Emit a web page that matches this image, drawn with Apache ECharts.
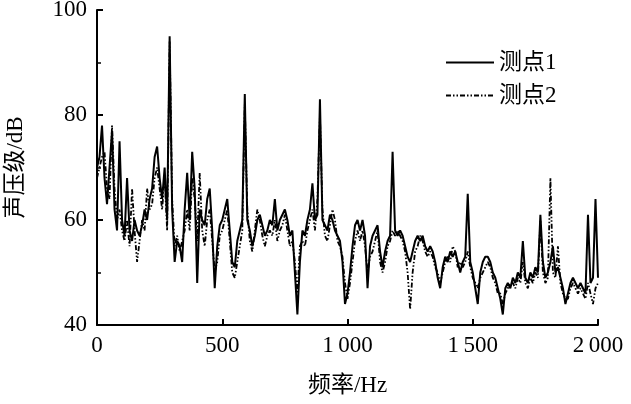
<!DOCTYPE html>
<html>
<head>
<meta charset="utf-8">
<script src="https://cdn.jsdelivr.net/npm/echarts@6/dist/echarts.min.js"></script>
<style>
html,body{margin:0;padding:0;background:#fff;}
#c{width:631px;height:404px;}
</style>
</head>
<body>
<div id="c"></div>
<script>
// frequency sampling grid (Hz), step 10
const freqStep = 10;
const freqCount = 201;
const freqs = Array.from({length: freqCount}, (_, i) => i * freqStep);

// 测点1 (solid) sound pressure level, dB
const point1 = [
70,72,78,68,63,70,77,62,58,75,60,57,68,58,56,60,58,57,59,62,
60,64,66,72,74,68,64,70,60,95,62,52,56,55,52,62,69,60,73,66,
48,62,60,59,64,66,58,47,55,59,60,62,64,58,52,51,56,58,60,84,
60,58,55,57,60,61,59,57,58,60,59,64,58,60,61,62,60,57,58,50,
42,52,58,57,60,62,67,60,61,83,60,59,58,61,60,58,57,56,52,44,
46,50,55,59,60,58,60,57,47,55,57,58,59,54,51,54,56,57,73,58,
57,58,57,55,53,52,54,56,57,56,57,55,54,55,54,52,49,47,51,53,
52,54,53,54,52,50,52,53,65,52,50,47,44,50,52,53,53,52,50,49,
47,45,42,47,48,47,49,48,50,49,56,49,48,50,49,51,50,61,52,49,
50,52,55,50,51,49,47,44,46,48,49,48,47,48,47,46,61,48,49,64,
49
];

// 测点2 (dash-dot) sound pressure level, dB
const point2 = [
68,70,72,73,66,64,78,66,60,62,58,56,60,55,66,58,52,56,60,58,
66,62,63,68,70,66,62,68,58,94,64,55,57,54,56,58,62,58,68,64,
56,69,58,55,60,62,56,50,52,57,58,60,62,56,50,49,52,55,58,82,
62,56,54,58,62,60,57,55,57,58,57,60,56,58,59,61,58,55,56,52,
46,55,56,55,58,60,62,58,64,80,62,57,56,59,62,60,56,55,53,48,
45,48,52,56,58,56,58,55,50,53,54,56,58,52,50,52,55,56,58,57,
58,57,56,54,50,43,50,54,55,57,56,54,53,54,53,51,50,48,50,52,
53,52,55,54,51,52,51,52,54,51,49,48,47,49,50,51,52,51,49,48,
46,46,44,46,47,48,48,47,49,48,52,48,47,49,48,50,49,60,50,48,
49,68,50,49,55,48,46,45,45,47,48,47,46,47,46,45,48,46,44,47,
48
];

const seriesNames = ['测点1', '测点2'];
const xTickLabels = {0: '0', 500: '500', 1000: '1\u2009000', 1500: '1\u2009500', 2000: '2\u2009000'};
const xAxisTitle = '频率/Hz';
const yAxisTitle = '声压级/dB';

const toPairs = arr => arr.map((v, i) => [freqs[i], v]);

const fontFam = "'Liberation Serif','Times New Roman','Noto Sans CJK SC',serif";
const chart = echarts.init(document.getElementById('c'));
chart.setOption({
  animation: false,
  backgroundColor: '#fff',
  grid: {left: 97, right: 33, top: 10, bottom: 79, containLabel: false, outerBoundsMode: 'none'},
  legend: {
    orient: 'vertical',
    left: 440,
    top: 46,
    itemWidth: 48,
    itemHeight: 14,
    itemGap: 10,
    itemStyle: {opacity: 0},
    textStyle: {fontFamily: fontFam, fontSize: 23, color: '#000'},
    data: seriesNames
  },
  xAxis: {
    type: 'value',
    min: 0, max: 2000, interval: 500,
    name: xAxisTitle, nameLocation: 'middle', nameGap: 49,
    nameTextStyle: {fontFamily: fontFam, fontSize: 23, color: '#000'},
    axisLine: {lineStyle: {color: '#000', width: 2}},
    axisTick: {inside: true, length: 6, lineStyle: {color: '#000', width: 2}},
    axisLabel: {fontFamily: fontFam, fontSize: 23, color: '#000', margin: 9,
      formatter: v => xTickLabels[v] !== undefined ? xTickLabels[v] : ''},
    splitLine: {show: false}
  },
  yAxis: {
    type: 'value',
    min: 40, max: 100, interval: 20,
    name: yAxisTitle, nameLocation: 'middle', nameGap: 70,
    nameTextStyle: {fontFamily: fontFam, fontSize: 23, color: '#000'},
    axisLine: {show: true, lineStyle: {color: '#000', width: 2}},
    axisTick: {inside: true, length: 6, lineStyle: {color: '#000', width: 2}},
    minorTick: {show: true, splitNumber: 2, length: 4, lineStyle: {color: '#000', width: 1.5}},
    axisLabel: {fontFamily: fontFam, fontSize: 23, color: '#000', margin: 10},
    splitLine: {show: false}
  },
  series: [
    {
      name: seriesNames[0], type: 'line', showSymbol: false, symbol: 'none',
      data: toPairs(point1),
      lineStyle: {color: '#000', width: 2, type: 'solid'},
      itemStyle: {color: '#000'},
      z: 3
    },
    {
      name: seriesNames[1], type: 'line', showSymbol: false, symbol: 'none',
      data: toPairs(point2),
      lineStyle: {color: '#000', width: 1.8, type: [5, 2, 1.5, 2, 1.5, 2]},
      itemStyle: {color: '#000'},
      z: 2
    }
  ]
});
</script>
</body>
</html>
